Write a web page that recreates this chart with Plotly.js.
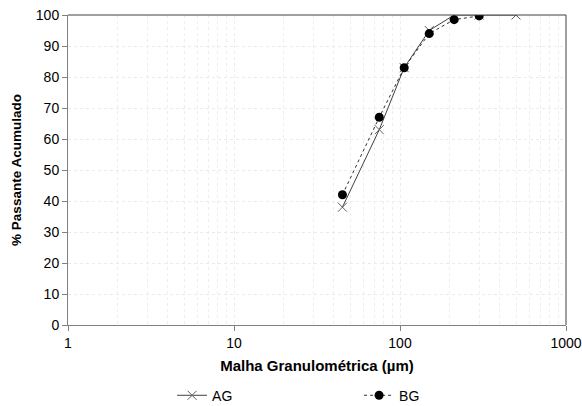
<!DOCTYPE html>
<html>
<head>
<meta charset="utf-8">
<script src="https://cdn.plot.ly/plotly-3.0.1.min.js"></script>
<style>html,body{margin:0;padding:0;background:#fff;}#chart{width:582px;height:406px;}</style>
</head>
<body>
<div id="chart"></div>
<script>
const agSize = [45, 75, 106, 150, 212, 300, 500];
const agPass = [38, 63, 83, 95, 100, 100, 100];
const bgSize = [45, 75, 106, 150, 212, 300];
const bgPass = [42, 67, 83, 94, 98.5, 99.7];
const xTickVals = [1, 10, 100, 1000];
const xTickText = ['1', '10', '100', '1000'];

const traces = [
  {
    x: agSize, y: agPass, name: 'AG', type: 'scatter', mode: 'lines+markers',
    line: {color: '#404040', width: 1, dash: 'solid'},
    marker: {symbol: 'x-thin', size: 9, line: {color: '#606060', width: 1}, color: '#606060'}
  },
  {
    x: bgSize, y: bgPass, name: 'BG', type: 'scatter', mode: 'lines+markers',
    line: {color: '#303030', width: 1, dash: 'dot'},
    marker: {symbol: 'circle', size: 9, color: '#000000'}
  }
];

const layout = {
  width: 582, height: 406,
  margin: {l: 68, r: 16, t: 15, b: 81, autoexpand: false},
  paper_bgcolor: '#ffffff', plot_bgcolor: '#ffffff',
  font: {family: 'Liberation Sans, Arial, sans-serif', size: 14, color: '#000'},
  showlegend: true,
  legend: {
    orientation: 'h', x: 0.209, xanchor: 'left', y: -0.228, yanchor: 'middle',
    entrywidth: 142, entrywidthmode: 'pixels', itemwidth: 30,
    font: {size: 14, color: '#000'}, bgcolor: 'rgba(0,0,0,0)'
  },
  xaxis: {
    type: 'log', range: [0, 3],
    tickvals: xTickVals, ticktext: xTickText,
    ticks: 'outside', ticklen: 5, tickcolor: '#808080',
    showline: true, linecolor: '#808080', linewidth: 1,
    showgrid: true, gridcolor: '#ebebeb', griddash: 'dot',
    minor: {dtick: 'D1', showgrid: true, gridcolor: '#eeeeee', griddash: 'dot', ticks: ''},
    zeroline: false, tickfont: {size: 14},
    title: {text: '<b>Malha Granulométrica (µm)</b>', font: {size: 15}, standoff: 10}
  },
  yaxis: {
    range: [0, 100], dtick: 10,
    ticks: 'outside', ticklen: 5, tickcolor: '#808080',
    showline: true, linecolor: '#808080', linewidth: 1,
    showgrid: true, gridcolor: '#ebebeb', griddash: 'dot',
    zeroline: false, tickfont: {size: 14},
    title: {text: '<b>% Passante Acumulado</b>', font: {size: 13.5}, standoff: 11}
  },
  shapes: [
    {type: 'line', xref: 'paper', yref: 'paper', x0: 0, x1: 1, y0: 1, y1: 1, line: {color: '#404040', width: 1}},
    {type: 'line', xref: 'paper', yref: 'paper', x0: 1, x1: 1, y0: 0, y1: 1, line: {color: '#404040', width: 1}}
  ]
};

Plotly.newPlot('chart', traces, layout, {displayModeBar: false, staticPlot: true});
</script>
</body>
</html>
